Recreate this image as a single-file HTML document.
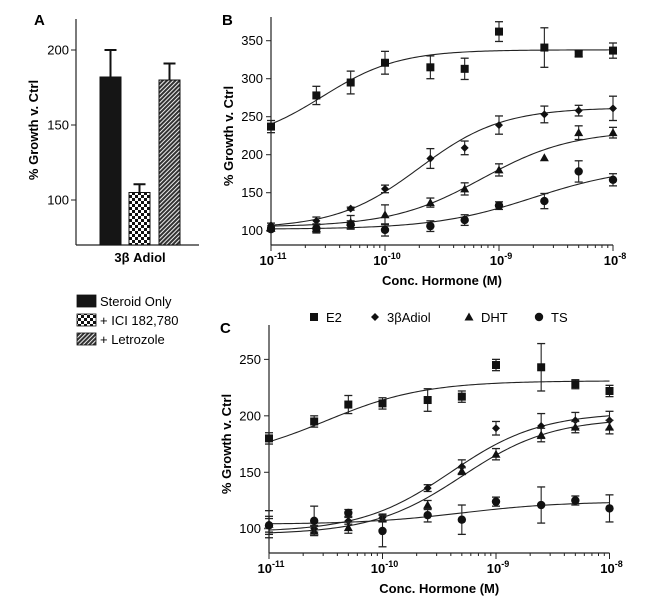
<!DOCTYPE html>
<html><head><meta charset="utf-8"><style>
html,body{margin:0;padding:0;background:#fff;}
svg{display:block;font-family:"Liberation Sans",Arial,sans-serif;}
</style></head><body>
<svg id="fig" width="660" height="603" viewBox="0 0 660 603" xmlns="http://www.w3.org/2000/svg">
<defs>
<pattern id="checker" width="6" height="6" patternUnits="userSpaceOnUse"><rect width="6" height="6" fill="#fff"/><rect width="3" height="3" fill="#111"/><rect x="3" y="3" width="3" height="3" fill="#111"/></pattern>
<pattern id="hatch" width="3" height="3" patternUnits="userSpaceOnUse" patternTransform="rotate(45)"><rect width="3" height="3" fill="#eee"/><rect width="2" height="3" fill="#333"/></pattern>
</defs>
<g id="A"></g>
<g id="B"></g>
<g id="C"></g>
</svg>
<script>
const NS="http://www.w3.org/2000/svg";
// Panel A data
const barCategories=["Steroid Only","+ ICI 182,780","+ Letrozole"];
const barValues=[182,105,180];
const barErrors=[18,5.5,11];
const barTicks=[100,150,200];
// Panel B/C shared concentrations
const concentrations=[1e-11,2.5e-11,5e-11,1e-10,2.5e-10,5e-10,1e-9,2.5e-9,5e-9,1e-8];
const seriesNames=["E2","3βAdiol","DHT","TS"];
const bE2=[237,278,295,321,315,313,362,341,333,337];
const bE2Err=[8,12,15,15,15,14,13,26,4,10];
const bAdiol=[107,113,129,155,195,209,239,253,258,261];
const bAdiolErr=[3,5,2,5,13,9,12,11,7,16];
const bDHT=[103,103,111,121,137,155,180,196,229,229];
const bDHTErr=[2,5,9,13,6,8,8,0,9,7];
const bTS=[102,103,108,101,106,114,133,139,178,167];
const bTSErr=[2,6,5,8,7,7,5,10,14,8];
// fit params: bottom, top, logEC50, hill
const bFits=[[215,338,-10.55,1.3],[103,262,-9.7,1.2],[105,232,-9.15,1.1],[102,185,-8.7,1]];
const bTicks=[100,150,200,250,300,350];
const cE2=[180,195,210,211,214,217,245,243,228,222];
const cE2Err=[5,5,8,5,10,5,5,21,4,5];
const cAdiol=[103,100,107,110,136,155,189,191,196,196];
const cAdiolErr=[6,3,3,3,3,6,6,11,7,8];
const cDHT=[104,98,101,109,121,151,166,183,190,190];
const cDHTErr=[12,4,5,3,4,3,5,6,5,6];
const cTS=[103,107,114,98,112,108,124,121,125,118];
const cTSErr=[8,13,3,14,6,13,4,16,4,12];
const cFits=[[160,231,-10.5,1],[97,203,-9.4,1.1],[95,198,-9.3,1.1],[104,124,-9.3,1]];
const cTicks=[100,150,200,250];
const decadeTicks=[-11,-10,-9,-8];

function el(tag,attrs,parent,text){const e=document.createElementNS(NS,tag);for(const k in attrs)e.setAttribute(k,attrs[k]);if(text!==undefined)e.textContent=text;parent.appendChild(e);return e;}

// ---------- Panel A ----------
(function(){
const g=document.getElementById('A');
const y=v=>245-(v-70)*1.5;
const x0=76,x1=199;
el('text',{x:34,y:25,'font-size':15,'font-weight':'bold'},g,'A');
el('line',{x1:x0,y1:19,x2:x0,y2:245,stroke:'#222','stroke-width':1.2},g);
el('line',{x1:x0,y1:245,x2:x1,y2:245,stroke:'#222','stroke-width':1.2},g);
barTicks.forEach(t=>{
  el('line',{x1:x0-5,y1:y(t),x2:x0,y2:y(t),stroke:'#222'},g);
  const tx=el('text',{x:x0-7,y:y(t)+4.5,'font-size':13,'text-anchor':'end'},g,t);
  
  
});
const yt=el('text',{transform:'translate(38,130) rotate(-90)','font-size':13,'font-weight':'bold','text-anchor':'middle'},g,'% Growth v. Ctrl');

const fills=['#151515','url(#checker)','url(#hatch)'];
const bx=[100,129,159];
barValues.forEach((v,i)=>{
  const r=el('rect',{x:bx[i],y:y(v),width:21,height:245-y(v),fill:fills[i],stroke:'#111','stroke-width':1},g);
  
  const cx=bx[i]+10.5,top=y(v+barErrors[i]);
  el('line',{x1:cx,y1:y(v),x2:cx,y2:top,stroke:'#111','stroke-width':2},g);
  el('line',{x1:cx-6,y1:top,x2:cx+6,y2:top,stroke:'#111','stroke-width':2},g);
});
const xl=el('text',{x:140,y:262,'font-size':13,'font-weight':'bold','text-anchor':'middle'},g,'3β Adiol');

barCategories.forEach((c,i)=>{
  const yy=295+i*19;
  const s=el('rect',{x:77,y:yy,width:19,height:12,fill:fills[i],stroke:'#111','stroke-width':0.8},g);
  
  const t=el('text',{x:100,y:yy+11,'font-size':13},g,c);
  
});
})();

// ---------- Line panels ----------
function panel(gid,letter,ax,series,errs,fits,ticks,legend){
const g=document.getElementById(gid);
const X=c=>ax.x0+(Math.log10(c)+11)*ax.dec;
const Y=v=>ax.yb-(v-ax.vb)*ax.k;
el('text',{x:ax.x0-49,y:ax.top+8,'font-size':15,'font-weight':'bold'},g,letter);
el('line',{x1:ax.x0,y1:ax.top,x2:ax.x0,y2:ax.yb,stroke:'#222','stroke-width':1.2},g);
el('line',{x1:ax.x0,y1:ax.yb,x2:ax.x0+3*ax.dec,y2:ax.yb,stroke:'#222','stroke-width':1.2},g);
ticks.forEach(t=>{
  el('line',{x1:ax.x0-5,y1:Y(t),x2:ax.x0,y2:Y(t),stroke:'#222'},g);
  const tx=el('text',{x:ax.x0-8,y:Y(t)+4.5,'font-size':13,'text-anchor':'end'},g,t);
  
});
decadeTicks.forEach((d,i)=>{
  const xx=ax.x0+(d+11)*ax.dec;
  el('line',{x1:xx,y1:ax.yb,x2:xx,y2:ax.yb+6,stroke:'#222'},g);
  if(i<3)for(let m=2;m<10;m++){const mx=xx+Math.log10(m)*ax.dec;el('line',{x1:mx,y1:ax.yb,x2:mx,y2:ax.yb+3,stroke:'#222'},g);}
  const t=el('text',{x:xx+2,y:ax.yb+20,'font-size':13,'font-weight':'bold','text-anchor':'middle'},g);
  
  t.appendChild(document.createTextNode('10'));
  el('tspan',{dy:-6,'font-size':9},t,String(d));
});
const xt=el('text',{x:ax.x0+1.5*ax.dec,y:ax.yb+40,'font-size':13,'font-weight':'bold','text-anchor':'middle'},g,'Conc. Hormone (M)');

const yt=el('text',{transform:`translate(${ax.x0-38},${(ax.top+ax.yb)/2+5}) rotate(-90)`,'font-size':13,'font-weight':'bold','text-anchor':'middle'},g,'% Growth v. Ctrl');

const marker=(i,x,y,p)=>{
  let m;
  if(i===0)m=el('rect',{x:x-4,y:y-4,width:8,height:8,fill:'#111'},p);
  else if(i===1)m=el('polygon',{points:`${x},${y-4} ${x+4},${y} ${x},${y+4} ${x-4},${y}`,fill:'#111'},p);
  else if(i===2)m=el('polygon',{points:`${x},${y-4.5} ${x+4.5},${y+3.5} ${x-4.5},${y+3.5}`,fill:'#111'},p);
  else m=el('circle',{cx:x,cy:y,r:4.2,fill:'#111'},p);
  return m;
};
series.forEach((vals,i)=>{
  const sg=el('g',{},g);
  
  
  const f=fits[i];let d='';
  for(let s=0;s<=150;s++){const lx=-11+3*s/150;const v=f[0]+(f[1]-f[0])/(1+Math.pow(10,(f[2]-lx)*f[3]));d+=(s?'L':'M')+X(Math.pow(10,lx)).toFixed(2)+','+Y(v).toFixed(2);}
  const p=el('path',{d:d,fill:'none',stroke:'#222','stroke-width':1.1},sg);
  
  vals.forEach((v,j)=>{
    const x=X(concentrations[j]),e=errs[i][j];
    if(e>0){
      el('line',{x1:x,y1:Y(v+e),x2:x,y2:Y(v-e),stroke:'#222','stroke-width':1.1},sg);
      el('line',{x1:x-4,y1:Y(v+e),x2:x+4,y2:Y(v+e),stroke:'#222','stroke-width':1.3},sg);
      el('line',{x1:x-4,y1:Y(v-e),x2:x+4,y2:Y(v-e),stroke:'#222','stroke-width':1.3},sg);
    }
    const m=marker(i,x,Y(v),sg);
    
    
  });
});
if(legend){
  const lx=[314,375,469,539];
  seriesNames.forEach((n,i)=>{
    const lg=el('g',{},g);
    
    
    marker(i,lx[i],317,lg);
    el('text',{x:lx[i]+12,y:322,'font-size':13},lg,n);
  });
}
}
panel('B','B',{x0:271,dec:114,yb:245,vb:81.2,k:0.76,top:17},[bE2,bAdiol,bDHT,bTS],[bE2Err,bAdiolErr,bDHTErr,bTSErr],bFits,bTicks,false);
panel('C','C',{x0:269,dec:113.5,yb:553,vb:78.5,k:1.129,top:325},[cE2,cAdiol,cDHT,cTS],[cE2Err,cAdiolErr,cDHTErr,cTSErr],cFits,cTicks,true);
</script>
</body></html>
